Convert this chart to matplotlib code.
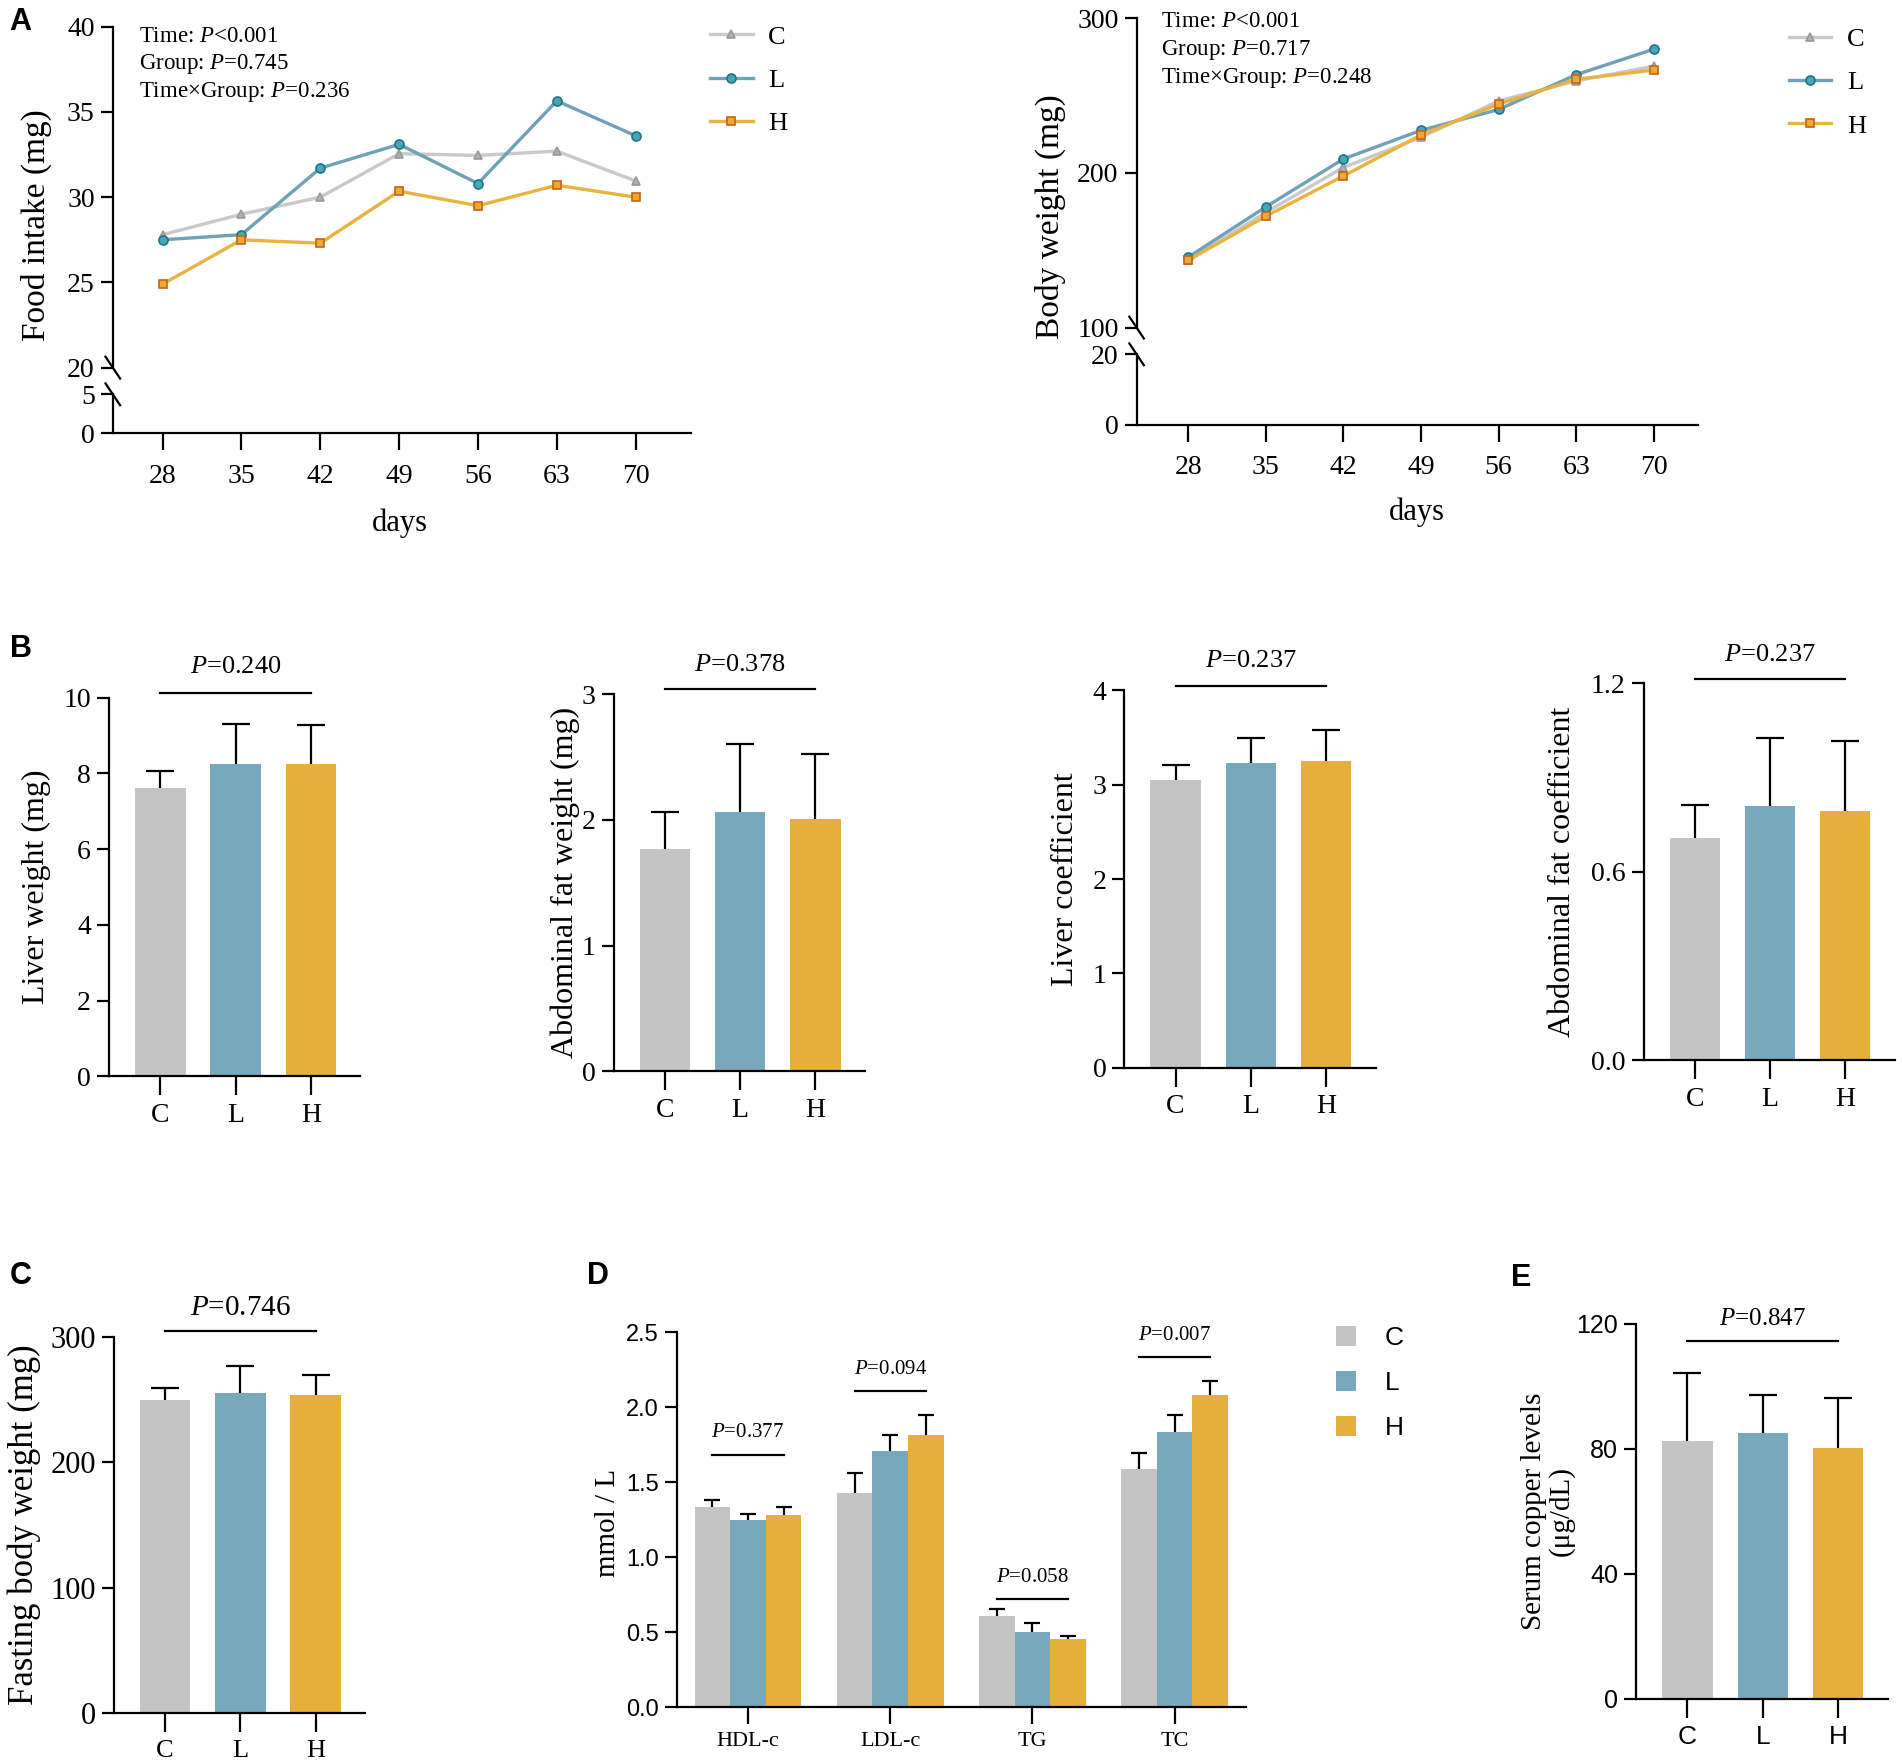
import matplotlib
matplotlib.use("Agg")
import matplotlib.pyplot as plt
from matplotlib.lines import Line2D

plt.rcParams['font.family'] = 'Liberation Serif'
plt.rcParams['mathtext.fontset'] = 'custom'
plt.rcParams['mathtext.rm'] = 'Liberation Serif'
plt.rcParams['mathtext.it'] = 'Liberation Serif:italic'
plt.rcParams['axes.linewidth'] = 1.6

# ---- data ----
days = [28, 35, 42, 49, 56, 63, 70]
food_C = [27.8, 29.0, 30.0, 32.55, 32.45, 32.7, 30.95]
food_L = [27.5, 27.8, 31.7, 33.1, 30.8, 35.65, 33.6]
food_H = [24.9, 27.5, 27.3, 30.35, 29.5, 30.7, 30.0]
bw_C = [143.5, 174.5, 203.5, 223, 246.5, 259.5, 269]
bw_L = [145.5, 178, 209, 227.5, 241, 263.5, 280]
bw_H = [143.5, 172, 198, 224.5, 244.5, 260.5, 266.5]

groups = ['C', 'L', 'H']
liver_w = [7.62, 8.26, 8.24]
liver_w_sd = [0.45, 1.05, 1.04]
fat_w = [1.77, 2.06, 2.01]
fat_w_sd = [0.29, 0.54, 0.51]
liver_coef = [3.05, 3.23, 3.25]
liver_coef_sd = [0.16, 0.27, 0.33]
fat_coef = [0.706, 0.808, 0.794]
fat_coef_sd = [0.105, 0.218, 0.223]
fast_bw = [249.7, 255.3, 254.0]
fast_bw_sd = [10.0, 22.0, 15.5]
copper = [82.5, 85.0, 80.3]
copper_sd = [21.9, 12.2, 16.0]

lipids = ['HDL-c', 'LDL-c', 'TG', 'TC']
lip_C = [1.336, 1.431, 0.608, 1.591]
lip_L = [1.248, 1.708, 0.502, 1.834]
lip_H = [1.283, 1.814, 0.454, 2.080]
lip_C_sd = [0.047, 0.133, 0.049, 0.101]
lip_L_sd = [0.042, 0.106, 0.062, 0.111]
lip_H_sd = [0.049, 0.133, 0.022, 0.093]
lip_p = ['0.377', '0.094', '0.058', '0.007']

bar_colors = ['#C4C4C4', '#78A8BC', '#E6AE3A']

W, H = 1568.0, 1453.0
fig = plt.figure(figsize=(19.02, 17.63), dpi=100)


def box(x0, y0, x1, y1):
    return [x0 / W, 1 - y1 / H, (x1 - x0) / W, (y1 - y0) / H]


def fx(x):
    return x / W


def fy(y):
    return 1 - y / H


def clean(ax, fs, family='Liberation Serif'):
    ax.spines['top'].set_visible(False)
    ax.spines['right'].set_visible(False)
    ax.tick_params(width=1.6, length=9, labelsize=fs, pad=4)
    for lab in ax.get_xticklabels() + ax.get_yticklabels():
        lab.set_family(family)


def up_errorbar(ax, xs, vals, sds, cap):
    # only the upper half of the error bar, like the original figure
    eb = ax.errorbar(xs, vals, yerr=[[0] * len(vals), sds], fmt='none', ecolor='k',
                     elinewidth=1.6, capsize=cap, capthick=1.6, zorder=1)
    eb[1][0].set_visible(False)


# ---- panel A: line charts with broken y axis ----
def line_panel(x0, x1, y_top, y_mid1, y_mid2, y_bot, xl, top_lim, top_ticks,
               bot_lim, bot_ticks, series, ylabel, ylab_x, stats, stats_xy, leg_xy, days_xy):
    ax_t = fig.add_axes(box(x0, y_top, x1, y_mid1))
    ax_b = fig.add_axes(box(x0, y_mid2, x1, y_bot))
    styles = [('C', '#C9C9C9', '^', '#B0B0B0', '#999999', 6),
              ('L', '#6FA2B6', 'o', '#45A7B9', '#1E7486', 6.5),
              ('H', '#E8B33E', 's', '#F0A830', '#C4641A', 6)]
    for vals, (lab, c, m, mf, me, ms) in zip(series, styles):
        ax_t.plot(days, vals, color=c, lw=2.4, marker=m, ms=ms, mfc=mf, mec=me,
                  mew=1.2, label=lab, clip_on=False)
    ax_t.set_xlim(*xl)
    ax_b.set_xlim(*xl)
    ax_t.set_ylim(*top_lim)
    ax_t.set_yticks(top_ticks)
    ax_b.set_ylim(*bot_lim)
    ax_b.set_yticks(bot_ticks)
    ax_t.spines['bottom'].set_visible(False)
    ax_t.set_xticks([])
    ax_b.set_xticks(days)
    clean(ax_t, 20)
    clean(ax_b, 20)
    ax_b.tick_params(axis='x', length=12, pad=10)
    for ax in (ax_t, ax_b):
        ax.patch.set_alpha(0)
    # break marks
    for yy in (y_mid1, y_mid2):
        fig.add_artist(Line2D([fx(x0 - 6), fx(x0 + 6)], [fy(yy - 9), fy(yy + 9)],
                              color='k', lw=1.6, transform=fig.transFigure))
    fig.text(fx(ylab_x), fy((y_top + y_bot) / 2 - 4), ylabel, rotation=90,
             ha='center', va='center', fontsize=24)
    fig.text(fx(days_xy[0]), fy(days_xy[1]), 'days', ha='center', va='center', fontsize=22)
    for i, s in enumerate(stats):
        fig.text(fx(stats_xy[0]), fy(stats_xy[1] + 23 * i), s, ha='left', va='center', fontsize=16.5)
    ax_t.legend(loc='center left', bbox_to_anchor=(fx(leg_xy[0]), fy(leg_xy[1])),
                bbox_transform=fig.transFigure, frameon=False, fontsize=19,
                handlelength=1.6, handletextpad=0.6, labelspacing=0.75)


line_panel(93, 570, 22, 303, 325, 357, (23.58, 74.95), (20, 40), [20, 25, 30, 35, 40],
           (0, 5), [0, 5], [food_C, food_L, food_H], 'Food intake (mg)', 30,
           ['Time: $P$<0.001', 'Group: $P$=0.745', 'Time×Group: $P$=0.236'],
           (115, 30), (566, 66), (330, 431))

line_panel(937, 1400, 15, 270, 292, 350, (23.35, 74.0), (100, 300), [100, 200, 300],
           (0, 20), [0, 20], [bw_C, bw_L, bw_H], 'Body weight (mg)', 866,
           ['Time: $P$<0.001', 'Group: $P$=0.717', 'Time×Group: $P$=0.248'],
           (957, 18), (1455, 68), (1168, 422))


# ---- bar panels ----
def bar_panel(x_spine, y_top, y_bot, vals, sds, ylim, yticks, ylabel, ylab_x, p, line_y, text_y,
              tick_fs=20, lab_fs=23, p_fs=19, cat_fs=20, cat_family='Liberation Serif',
              tick_family='Liberation Serif', fmt=None, unit=62.0):
    x1 = x_spine + 3.34 * unit
    ax = fig.add_axes(box(x_spine, y_top, x1, y_bot))
    xs = list(range(len(groups)))
    ax.bar(xs, vals, width=0.67, color=bar_colors, zorder=2)
    up_errorbar(ax, xs, vals, sds, 10)
    ax.set_xlim(-0.68, 2.66)
    ax.set_ylim(*ylim)
    ax.set_yticks(yticks)
    if fmt:
        ax.set_yticklabels([fmt.format(t) for t in yticks])
    ax.set_xticks(xs)
    ax.set_xticklabels(groups)
    clean(ax, tick_fs, tick_family)
    ax.tick_params(axis='x', length=14, pad=5, labelsize=cat_fs)
    for lab in ax.get_xticklabels():
        lab.set_family(cat_family)
    ax.plot([0, 2], [line_y, line_y], color='k', lw=1.6, clip_on=False)
    ax.text(1, text_y, '$P$=' + p, ha='center', va='center', fontsize=p_fs,
            family='Liberation Serif')
    fig.text(fx(ylab_x), fy((y_top + y_bot) / 2), ylabel, rotation=90, ha='center',
             va='center', fontsize=lab_fs, linespacing=1.0)
    return ax


bar_panel(90, 575, 887, liver_w, liver_w_sd, (0, 10), [0, 2, 4, 6, 8, 10],
          'Liver weight (mg)', 30, '0.240', 10.13, 10.8)
bar_panel(506, 572, 883, fat_w, fat_w_sd, (0, 3), [0, 1, 2, 3],
          'Abdominal fat weight (mg)', 466, '0.378', 3.04, 3.23)
bar_panel(927, 569, 880, liver_coef, liver_coef_sd, (0, 4), [0, 1, 2, 3, 4],
          'Liver coefficient', 878, '0.237', 4.05, 4.31)
bar_panel(1355, 563, 874, fat_coef, fat_coef_sd, (0, 1.2), [0.0, 0.6, 1.2],
          'Abdominal fat coefficient', 1288, '0.237', 1.214, 1.29, fmt='{:.1f}')

# C
bar_panel(94, 1102, 1412, fast_bw, fast_bw_sd, (0, 300), [0, 100, 200, 300],
          'Fasting body weight (mg)', 20, '0.746', 304.5, 323, tick_fs=22, lab_fs=25,
          p_fs=21, cat_fs=19)

# E
bar_panel(1349, 1091, 1400, copper, copper_sd, (0, 120), [0, 40, 80, 120],
          'Serum copper levels\n(μg/dL)', 1276, '0.847', 114.4, 121.5, tick_fs=18, lab_fs=21,
          p_fs=18, cat_fs=19, cat_family='Liberation Sans', tick_family='Liberation Sans')

# ---- D grouped bars ----
axd = fig.add_axes(box(558, 1098, 1027, 1407))
xg = range(len(lipids))
bw = 0.25
for k, (vals, sds, col, lab) in enumerate(zip([lip_C, lip_L, lip_H],
                                               [lip_C_sd, lip_L_sd, lip_H_sd],
                                               bar_colors, groups)):
    pos = [x + (k - 1) * bw for x in xg]
    axd.bar(pos, vals, width=bw, color=col, zorder=2, label=lab)
    up_errorbar(axd, pos, vals, sds, 6)
axd.set_xlim(-0.5, 3.5)
axd.set_ylim(0, 2.5)
axd.set_yticks([0, 0.5, 1.0, 1.5, 2.0, 2.5])
axd.set_yticklabels(['0.0', '0.5', '1.0', '1.5', '2.0', '2.5'])
axd.set_xticks(list(xg))
axd.set_xticklabels(lipids)
clean(axd, 17, 'Liberation Sans')
axd.tick_params(axis='x', length=12, pad=6)
for lab in axd.get_xticklabels():
    lab.set_family('Liberation Serif')
    lab.set_fontsize(16)
lip_line = [1.684, 2.108, 0.719, 2.338]
lip_text = [1.83, 2.255, 0.863, 2.478]
for i in range(len(lipids)):
    axd.plot([i - bw, i + bw], [lip_line[i], lip_line[i]], color='k', lw=1.6, clip_on=False)
    axd.text(i, lip_text[i], '$P$=' + lip_p[i], ha='center', va='center', fontsize=15)
fig.text(fx(501), fy(1255), 'mmol / L', rotation=90, ha='center', va='center', fontsize=21)
axd.legend(loc='center left', bbox_to_anchor=(fx(1082), fy(1140)), bbox_transform=fig.transFigure,
           frameon=False, prop={'family': 'Liberation Sans', 'size': 19},
           handlelength=0.75, handleheight=0.75, handletextpad=1.1, labelspacing=0.8)

# panel letters
for letter, (x, y) in zip('ABCDE', [(8, 18), (8, 535), (8, 1052), (484, 1052), (1246, 1053)]):
    fig.text(fx(x), fy(y), letter, ha='left', va='center', fontsize=22,
             family='Liberation Sans', weight='bold')

fig.savefig('out.png', dpi=100)
